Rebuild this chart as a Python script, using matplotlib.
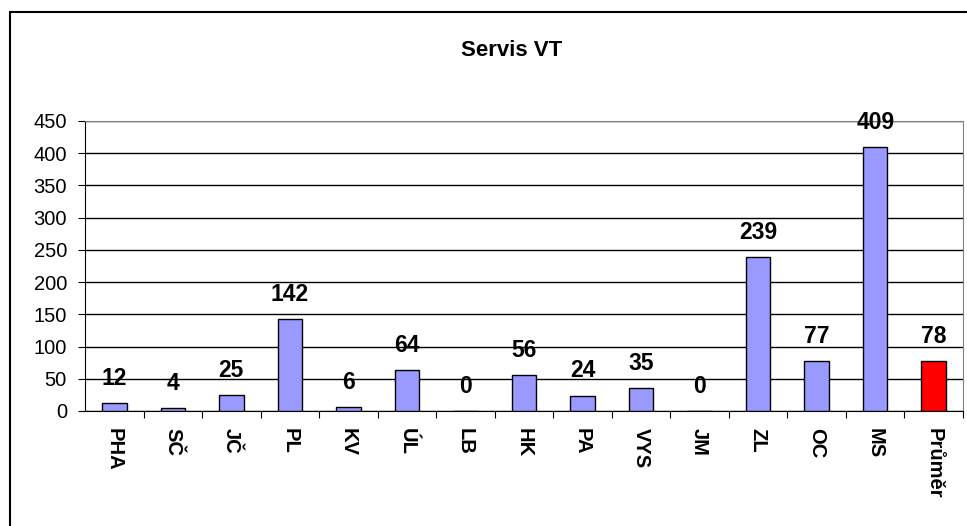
import matplotlib
matplotlib.use("Agg")
import matplotlib.pyplot as plt
from matplotlib.patches import Rectangle

regions = ["PHA", "SČ", "JČ", "PL", "KV", "ÚL", "LB", "HK", "PA", "VYS", "JM", "ZL", "OC", "MS", "Průměr"]
values = [12, 4, 25, 142, 6, 64, 0, 56, 24, 35, 0, 239, 77, 409, 78]
colors = ["#9999FF"] * 14 + ["#FF0000"]

plt.rcParams['font.family'] = ['Liberation Sans', 'DejaVu Sans']

fig = plt.figure(figsize=(9.67, 5.26), dpi=100)
# outer frame
fig.patches.append(Rectangle((10 / 967, -0.05), 2, 1 - 12 / 526 + 0.05, transform=fig.transFigure,
                             fill=False, edgecolor="black", lw=1.5))
ax = fig.add_axes([85 / 967, 1 - 411 / 526, (963 - 85) / 967, (411 - 121) / 526])

x = range(len(regions))
ax.bar(x, values, width=0.42, color=colors, edgecolor="black", lw=1, zorder=3)
for i, v in enumerate(values):
    ax.annotate(str(v), (i, v), xytext=(0, 9.5), textcoords="offset points",
                ha="center", va="bottom", fontsize=16.5, fontweight="bold")

ax.set_xlim(-0.5, len(regions) - 0.5)
ax.set_ylim(0, 450)
ax.set_yticks(range(0, 451, 50))
ax.tick_params(axis="y", labelsize=14.5, length=5, direction="out", pad=8)
ax.yaxis.grid(True, color="black", lw=1)
ax.set_axisbelow(True)

ax.set_xticks([i + 0.5 for i in range(len(regions) - 1)] + [len(regions) - 0.5], minor=False)
ax.set_xticklabels([])
ax.set_xticks(list(x), minor=True)
ax.set_xticklabels(regions, minor=True, rotation=-90, fontsize=14.5, fontweight="bold")
ax.tick_params(axis="x", which="minor", length=0, pad=12)
ax.tick_params(axis="x", which="major", length=5)

ax.spines['top'].set_color('gray')
ax.spines['right'].set_color('gray')
ax.spines['left'].set_color('black')
ax.spines['bottom'].set_color('black')

fig.text(512 / 967, 1 - 50 / 526, "Servis VT", ha="center", va="center", fontsize=16, fontweight="bold")

fig.savefig("out.png", dpi=100)
